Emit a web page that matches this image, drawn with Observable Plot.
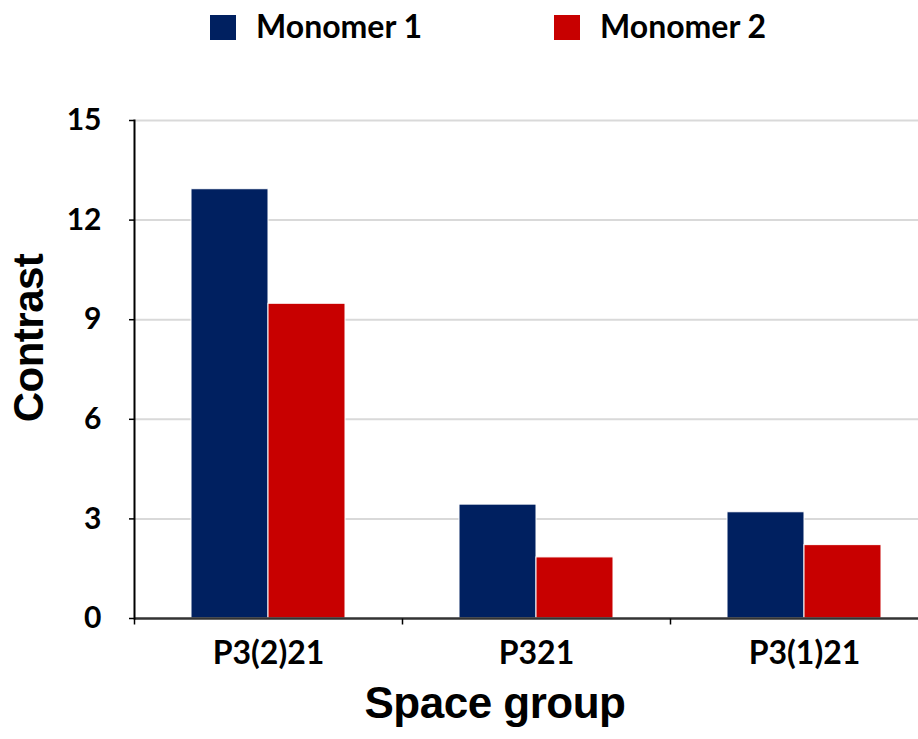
<!DOCTYPE html>
<html>
<head>
<meta charset="utf-8">
<script src="https://cdn.jsdelivr.net/npm/d3@7"></script>
<script src="https://cdn.jsdelivr.net/npm/@observablehq/plot@0.6"></script>
<style>
  html, body { margin: 0; padding: 0; background: #fff; overflow: hidden; }
  #wrap { position: relative; width: 918px; height: 739px; }
  #wrap > svg { position: absolute; left: 0; top: 0; }
  #overlay { pointer-events: none; }
</style>
</head>
<body>
<div id="wrap"></div>
<script>
// ---- data ----
const spaceGroups = ["P3(2)21", "P321", "P3(1)21"];
const monomer1 = [12.93, 3.43, 3.2];
const monomer2 = [9.48, 1.84, 2.21];
const seriesNames = ["Monomer 1", "Monomer 2"];
const seriesColors = ["#002060", "#C80000"];
const yTicks = [0, 3, 6, 9, 12, 15];
const xTitle = "Space group";
const yTitle = "Contrast";

const rows = spaceGroups.flatMap((g, i) => [
  {group: g, series: seriesNames[0], value: monomer1[i]},
  {group: g, series: seriesNames[1], value: monomer2[i]}
]);

// small downward tick at each facet's left edge (band boundaries)
const boundaryTick = {draw(ctx) { ctx.moveTo(0, 0); ctx.lineTo(0, 6); }};

const chart = Plot.plot({
  width: 918,
  height: 739,
  marginTop: 120,
  marginBottom: 121,
  marginLeft: 133,
  marginRight: 61,
  style: {fontFamily: "Lato, 'Noto Sans', sans-serif", background: "transparent", color: "#000"},
  fx: {domain: spaceGroups, range: [133, 938], padding: 0, label: null},
  x: {domain: seriesNames, paddingInner: 0, paddingOuter: 0.74, axis: null},
  y: {domain: [0, 15], label: null},
  color: {domain: seriesNames, range: seriesColors},
  marks: [
    Plot.gridY(yTicks.slice(1), {stroke: "#d9d9d9", strokeOpacity: 1, strokeWidth: 2}),
    Plot.barY(rows, {fx: "group", x: "series", y: "value", fill: "series", stroke: "#ffffff", strokeWidth: 1}),
    Plot.ruleY([0], {stroke: "#333", strokeWidth: 2.5}),
    Plot.frame({anchor: "left", facetAnchor: "left", stroke: "#000", strokeWidth: 2}),
    Plot.dot([0], {frameAnchor: "bottom-left", symbol: boundaryTick, stroke: "#000", strokeWidth: 1.5, fill: "none"}),
    Plot.axisY(yTicks, {tickSize: 5, tickPadding: 28, fontSize: 30, fontWeight: "bold", stroke: "#000", strokeWidth: 1.5, label: null}),
    Plot.axisFx({anchor: "bottom", tickSize: 0, tickPadding: 23, fontSize: 32, fontWeight: "bold", label: null})
  ]
});
document.getElementById("wrap").appendChild(chart);

// ---- overlay: legend and axis titles ----
const ov = d3.select("#wrap").append("svg")
  .attr("id", "overlay")
  .attr("width", 918).attr("height", 739);

const legendX = [210, 554];
seriesNames.forEach((name, i) => {
  ov.append("rect")
    .attr("x", legendX[i]).attr("y", 15)
    .attr("width", 26).attr("height", 25)
    .attr("fill", seriesColors[i]);
  ov.append("text")
    .attr("x", legendX[i] + 46).attr("y", 38)
    .attr("font-family", "Lato, 'Noto Sans', sans-serif")
    .attr("font-weight", "bold")
    .attr("font-size", 32)
    .attr("fill", "#000")
    .text(name);
});

ov.append("text")
  .attr("x", 495).attr("y", 718)
  .attr("text-anchor", "middle")
  .attr("font-family", "'Liberation Sans', Arial, sans-serif")
  .attr("font-weight", "bold")
  .attr("font-size", 44)
  .attr("letter-spacing", -0.5)
  .attr("fill", "#000")
  .text(xTitle);

ov.append("text")
  .attr("transform", "translate(43,338) rotate(-90)")
  .attr("text-anchor", "middle")
  .attr("font-family", "'Liberation Sans', Arial, sans-serif")
  .attr("font-weight", "bold")
  .attr("font-size", 42)
  .attr("letter-spacing", -0.5)
  .attr("fill", "#000")
  .text(yTitle);
</script>
</body>
</html>
